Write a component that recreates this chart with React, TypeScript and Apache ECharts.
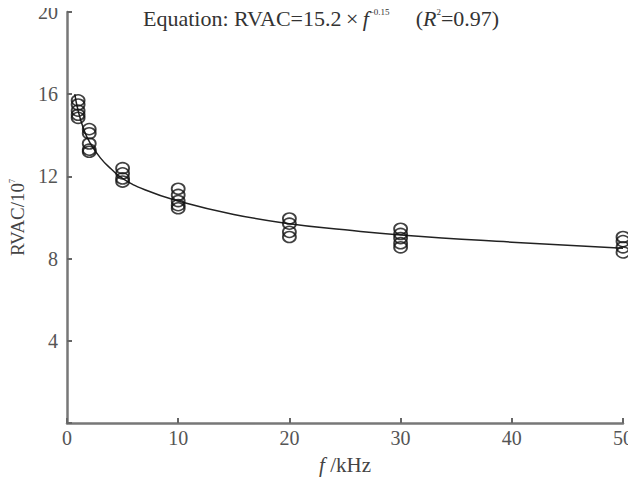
import React, { useEffect, useRef } from "react";
import * as echarts from "echarts";

const frequencies = [1, 2, 5, 10, 20, 30, 50];
const measured: number[][] = [
  [15.7, 15.5, 15.2, 15.0, 14.85],
  [14.3, 14.1, 13.6, 13.3, 13.2],
  [12.4, 12.15, 11.9, 11.75],
  [11.4, 11.1, 10.8, 10.6, 10.45],
  [9.95, 9.7, 9.3, 9.05],
  [9.45, 9.2, 9.0, 8.75, 8.55],
  [9.05, 8.85, 8.55, 8.3],
];
const fitF = [0.7, 1, 1.5, 2, 3, 4, 5, 7, 10, 15, 20, 25, 30, 40, 50];
const fitV = [16.0, 15.2, 14.3, 13.7, 12.9, 12.35, 11.9, 11.35, 10.8, 10.15, 9.7, 9.4, 9.15, 8.8, 8.5];
const xTicks = [0, 10, 20, 30, 40, 50];
const yTicks = [0, 4, 8, 12, 16, 20];

const FONT = "Liberation Serif";
const TXT = "#444";

export default function App() {
  const ref = useRef<HTMLDivElement>(null);
  useEffect(() => {
    if (!ref.current) return;
    const chart = echarts.init(ref.current, null, { renderer: "svg" });
    const pts: number[][] = [];
    frequencies.forEach((f, i) => measured[i].forEach((v) => pts.push([f, v])));
    const axisCommon = {
      axisLine: { show: true, lineStyle: { color: "#777", width: 2.5 } },
      axisTick: { show: true, inside: true, length: 5, lineStyle: { color: "#666", width: 2 } },
      splitLine: { show: false },
      axisLabel: { color: "#555", fontFamily: FONT, fontSize: 20 },
      nameTextStyle: { color: TXT, fontFamily: FONT, fontSize: 19 },
    };
    chart.setOption({
      animation: false,
      backgroundColor: "#fff",
      textStyle: { fontFamily: FONT },
      grid: { left: 67, right: 9, top: 12, bottom: 58 },
      title: {
        text: "Equation: RVAC=15.2\u2009\u00d7\u2009{i|f}{s|\u22120.15}{g| }({i|R}{s|2}=0.97)",
        left: 138,
        top: 2,
        textStyle: {
          fontFamily: FONT,
          fontSize: 22,
          fontWeight: "normal",
          color: "#333",
          rich: {
            i: { fontFamily: FONT, fontSize: 22, fontStyle: "italic", color: "#333" },
            s: { fontFamily: FONT, fontSize: 9, color: "#333", verticalAlign: "top", padding: [0, 0, 12, 0] },
            g: { fontFamily: FONT, fontSize: 22, width: 26 },
          },
        },
      },
      xAxis: {
        type: "value",
        min: xTicks[0],
        max: xTicks[xTicks.length - 1],
        interval: 10,
        name: "{i|f} /kHz",
        nameLocation: "middle",
        nameGap: 31,
        ...axisCommon,
        nameTextStyle: {
          ...axisCommon.nameTextStyle,
          fontSize: 21,
          rich: { i: { fontFamily: FONT, fontSize: 21, fontStyle: "italic", color: TXT } },
        },
        axisLabel: { ...axisCommon.axisLabel, margin: 5 },
      },
      yAxis: {
        type: "value",
        min: yTicks[0],
        max: yTicks[yTicks.length - 1],
        interval: 4,
        name: "RVAC/10{s|7}",
        nameLocation: "middle",
        nameGap: 33,
        ...axisCommon,
        nameTextStyle: {
          ...axisCommon.nameTextStyle,
          rich: { s: { fontFamily: FONT, fontSize: 8, color: TXT, verticalAlign: "top", padding: [0, 0, 10, 0] } },
        },
        axisLabel: {
          ...axisCommon.axisLabel,
          margin: 9,
          formatter: (v: number) => (v === 0 ? "" : String(v)),
        },
      },
      series: [
        {
          type: "line",
          data: fitF.map((f, i) => [f, fitV[i]]),
          smooth: true,
          showSymbol: false,
          lineStyle: { color: "#222", width: 1.5 },
          z: 2,
        },
        {
          type: "scatter",
          data: pts,
          symbol: "circle",
          symbolSize: [13, 11],
          itemStyle: { color: "rgba(255,255,255,0)", borderColor: "#111", borderWidth: 1.7 },
          z: 3,
        },
      ],
    });
    return () => chart.dispose();
  }, []);
  return <div ref={ref} style={{ width: 636, height: 481, marginLeft: -8, marginTop: -8 }} />;
}
